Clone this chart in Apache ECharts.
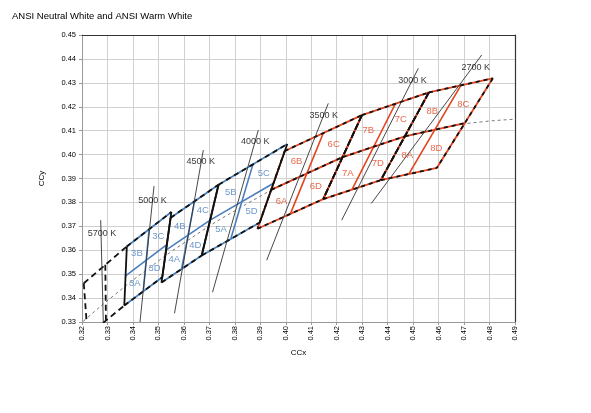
<!DOCTYPE html>
<html><head><meta charset="utf-8">
<script src="https://cdn.jsdelivr.net/npm/echarts@6/dist/echarts.min.js"></script>
<style>html,body{margin:0;padding:0;background:#fff}#c{width:591px;height:413px}</style>
</head><body><div id="c"></div>
<script>
// ANSI quadrangles: [top-left, top-right, bottom-right, bottom-left]
const q5700 = [[0.3207,0.3462],[0.3376,0.3616],[0.3366,0.3369],[0.3222,0.3243]];
const q5000 = [[0.3376,0.3616],[0.3551,0.3760],[0.3515,0.3487],[0.3366,0.3369]];
const q4500 = [[0.3548,0.3736],[0.3736,0.3874],[0.3670,0.3578],[0.3512,0.3465]];
const q4000 = [[0.3736,0.3874],[0.4006,0.4044],[0.3898,0.3716],[0.3670,0.3578]];
const q3500 = [[0.3996,0.4015],[0.4299,0.4165],[0.4147,0.3814],[0.3889,0.3690]];
const q3000 = [[0.4299,0.4165],[0.4562,0.4260],[0.4373,0.3893],[0.4147,0.3814]];
const q2700 = [[0.4562,0.4260],[0.4813,0.4319],[0.4593,0.3944],[0.4373,0.3893]];
const binPrefix = ['3','4','5','6','7','8'];

// iso-CCT lines [top, bottom] and labels
const isoNames = ['5700 K','5000 K','4500 K','4000 K','3500 K','3000 K','2700 K'];
const isoLines = [
  [[0.32734,0.37257],[0.32836,0.3300]],
  [[0.34827,0.38680],[0.34277,0.3300]],
  [[0.36763,0.40187],[0.35632,0.33364]],
  [[0.38922,0.41024],[0.37124,0.34243]],
  [[0.41670,0.42142],[0.39252,0.35583]],
  [[0.45204,0.43607],[0.42196,0.37257]],
  [[0.47693,0.44164],[0.43356,0.37956]]
];
const isoLabelPos = [[0.32785,0.36713],[0.34768,0.38094],[0.36664,0.39698],[0.38800,0.40535],[0.41494,0.41652],[0.44976,0.43088],[0.47461,0.43649]];

// Planckian locus (CIE 1931 x,y)
const planckX = [0.3135,0.3221,0.3325,0.3451,0.3608,0.3805,0.4053,0.4369,0.4599,0.4770,0.5018];
const planckY = [0.3236,0.3318,0.3411,0.3516,0.3636,0.3768,0.3907,0.4041,0.4106,0.4137,0.4153];

const BLUE = '#4a7ebb', RED = '#e2431e';
const series = [];
function seg(pts, color, width, type, z) {
  series.push({type:'line', data:pts, symbol:'none', silent:true, animation:false, clip:true, z:z,
    lineStyle:{color:color, width:width, type:type}});
}
function over(pts, color, dash) { seg(pts, color, 1.8, 'solid', 3); seg(pts, '#111', 1.8, dash || [4,4], 4); }
const mid = (a,b) => [(a[0]+b[0])/2,(a[1]+b[1])/2];

seg(planckX.map((x,i)=>[x,planckY[i]]), '#6a6a6a', 0.9, [3,3], 2);
series[series.length-1].smooth = true;

// 5700K
(function(){
  const [TL,TR,BR,BL] = q5700;
  seg([TL,TR],'#111',1.8,[6,4],4); seg([BL,BR],'#111',1.8,[6,4],4); seg([TL,BL],'#111',1.8,[6,4],4);
  seg([mid(TL,TR),mid(BL,BR)],'#111',1.8,[6,4],4);
})();

const labels = [];
function bins(q, prefix, color) {
  const [TL,TR,BR,BL] = q;
  const mt = mid(TL,TR), mb = mid(BL,BR), ml = mid(TL,BL), mr = mid(TR,BR);
  const c = [(TL[0]+TR[0]+BR[0]+BL[0])/4,(TL[1]+TR[1]+BR[1]+BL[1])/4];
  const cen = pts => [pts.reduce((s,p)=>s+p[0],0)/4, pts.reduce((s,p)=>s+p[1],0)/4];
  labels.push({value:cen([BL,mb,c,ml]), name:prefix+'A', color:color});
  labels.push({value:cen([ml,c,mt,TL]), name:prefix+'B', color:color});
  labels.push({value:cen([mt,TR,mr,c]), name:prefix+'C', color:color});
  labels.push({value:cen([c,mr,BR,mb]), name:prefix+'D', color:color});
  return {TL,TR,BR,BL,mt,mb,ml,mr};
}
[q5000,q4500,q4000].forEach((q,i)=>{
  const p = bins(q, binPrefix[i], BLUE);
  over([p.TL,p.TR],BLUE,[5,4]); over([p.BL,p.BR],BLUE,[5,4]);
  seg([p.TL,p.BL],'#111',1.8,'solid',4); seg([p.TR,p.BR],'#111',1.8,'solid',4);
  seg([p.mt,p.mb],BLUE,1.6,'solid',3); seg([p.ml,p.mr],BLUE,1.6,'solid',3);
});
[q3500,q3000,q2700].forEach((q,i)=>{
  const p = bins(q, binPrefix[i+3], RED);
  over([p.TL,p.TR],RED); over([p.BL,p.BR],RED); over([p.ml,p.mr],RED);
  seg([p.mt,p.mb],RED,1.6,'solid',3);
  over([p.TL,p.BL],RED, i===0 ? [4,4] : [7,2]);
  over([p.TR,p.BR],RED, i===2 ? [4,4] : [7,2]);
});

isoLines.forEach(l => seg(l,'#333',0.9,'solid',5));

series.push({type:'scatter', symbolSize:0, silent:true, animation:false, z:6,
  data: isoLabelPos.map((p,i)=>({value:p, name:isoNames[i]})),
  label:{show:true, position:'inside', formatter:'{b}', color:'#000', fontSize:9, fontFamily:'Liberation Sans'}});
series.push({type:'scatter', symbolSize:0, silent:true, animation:false, z:6,
  data: labels.map(l=>({value:l.value, name:l.name, label:{color:l.color}})),
  label:{show:true, position:'inside', formatter:'{b}', fontSize:9.5, fontFamily:'Liberation Sans'}});

const chart = echarts.init(document.getElementById('c'), null, {renderer:'canvas'});
chart.setOption({
  animation:false,
  textStyle:{fontFamily:'Liberation Sans'},
  title:{text:'ANSI Neutral White and ANSI Warm White', left:7, top:6,
    textStyle:{fontSize:9.5, fontWeight:'normal', color:'#000', fontFamily:'Liberation Sans'}},
  grid:{left:82, right:76, top:35, bottom:91},
  xAxis:[{type:'value', min:0.32, max:0.49, interval:0.01, name:'CCx', nameLocation:'middle', nameGap:24,
    nameTextStyle:{fontSize:8, color:'#000'},
    axisLine:{show:true, onZero:false, lineStyle:{color:'#999'}},
    axisTick:{show:true, length:3, lineStyle:{color:'#999'}},
    axisLabel:{rotate:90, fontSize:7.5, color:'#000', margin:4, formatter:v=>v.toFixed(2)},
    splitLine:{show:true, lineStyle:{color:'#d0d0d0', width:1}}},
    {type:'value', position:'top', min:0.32, max:0.49, axisLine:{show:true, lineStyle:{color:'#333', width:1.2}},
    axisTick:{show:false}, axisLabel:{show:false}, splitLine:{show:false}}],
  yAxis:[{type:'value', min:0.33, max:0.45, interval:0.01, name:'CCy', nameLocation:'middle', nameGap:36,
    nameTextStyle:{fontSize:8, color:'#000'},
    axisLine:{show:true, onZero:false, lineStyle:{color:'#999'}},
    axisTick:{show:true, length:3, lineStyle:{color:'#999'}},
    axisLabel:{fontSize:7.5, color:'#000', margin:6, formatter:v=>v.toFixed(2)},
    splitLine:{show:true, lineStyle:{color:'#d0d0d0', width:1}}},
    {type:'value', position:'right', min:0.33, max:0.45, axisLine:{show:true, lineStyle:{color:'#333', width:1.2}},
    axisTick:{show:false}, axisLabel:{show:false}, splitLine:{show:false}}],
  series: series
});
</script></body></html>
